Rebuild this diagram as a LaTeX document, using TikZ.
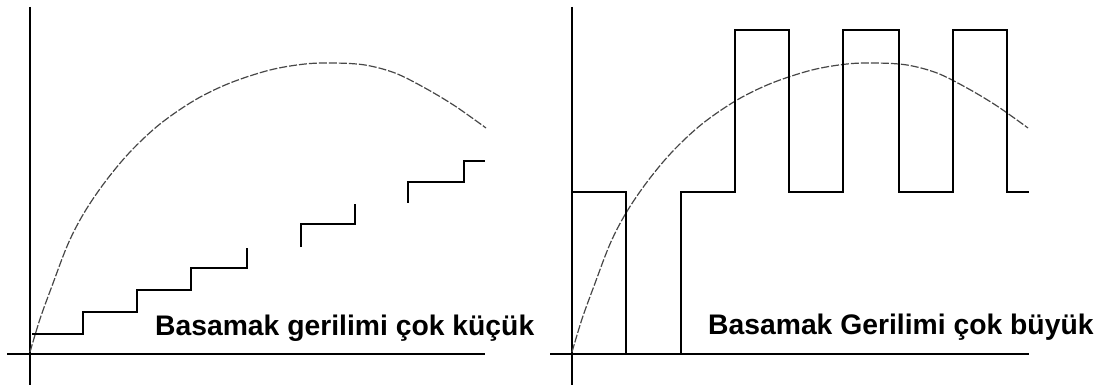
\documentclass[tikz,border=0pt]{standalone}
\usepackage{fontspec}
\setmainfont{Liberation Sans}
\begin{document}
\begin{tikzpicture}[x=1pt,y=-1pt,
  axis/.style={line width=1.3pt,black},
  sig/.style={line width=1.5pt,black,line join=miter},
  curve/.style={line width=1.2pt,black!72,dash pattern=on 8pt off 2pt},
  lbl/.style={anchor=base west,inner sep=0pt,font=\bfseries\fontsize{28.3}{30}\selectfont}]
\useasboundingbox (0,0) rectangle (1112,385);
\fill[white] (0,0) rectangle (1112,385);
\newcommand{\mycurve}{plot[smooth,tension=0.55] coordinates {(0,-2) (10,-35) (22,-68) (38,-110) (54,-141) (75,-172) (100,-202) (130,-230) (165,-254) (200,-271) (240,-284) (275,-290) (304,-291) (335,-289) (365,-281) (395,-266) (425,-248) (456,-226)}}
% left panel
\draw[axis] (30,7) -- (30,385);
\draw[axis] (7,354) -- (485,354);
\draw[curve,shift={(30,354)}] \mycurve;
\draw[sig] (32,334) -- (83,334) -- (83,312) -- (137,312) -- (137,290) -- (191,290) -- (191,268) -- (247,268) -- (247,248);
\draw[sig] (301,247) -- (301,224) -- (355,224) -- (355,204);
\draw[sig] (408,203) -- (408,182) -- (464,182) -- (464,161) -- (485,161);
\node[lbl] (t1) at (155,335) {Basamak gerilimi çok küçük};
% right panel
\draw[axis] (572,7) -- (572,385);
\draw[axis] (550,354) -- (1029,354);
\draw[curve,shift={(572,354)}] \mycurve;
\draw[sig] (572,192) -- (626,192) -- (626,354) -- (681,354) -- (681,192) -- (735,192) -- (735,30) -- (789,30) -- (789,192) -- (843,192) -- (843,30) -- (899,30) -- (899,192) -- (953,192) -- (953,30) -- (1007,30) -- (1007,192) -- (1029,192);
\node[lbl] (t2) at (708,334) {Basamak Gerilimi çok büyük};
\end{tikzpicture}
\end{document}
